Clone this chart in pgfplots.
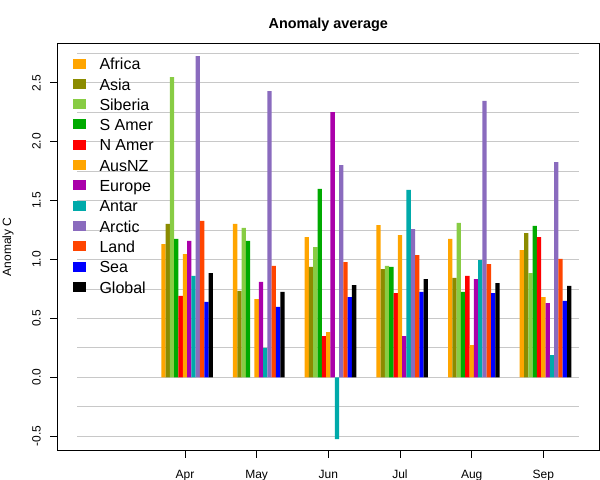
\documentclass[border=0pt]{standalone}
\usepackage{fontspec}
\setmainfont{Liberation Sans}
\usepackage{pgfplots}
\usepackage{pgfplotstable}
\pgfplotsset{compat=1.18}
\definecolor{africa}{HTML}{FFA500}
\definecolor{asia}{HTML}{8B8B00}
\definecolor{siberia}{HTML}{88CC44}
\definecolor{samer}{HTML}{00AA00}
\definecolor{namer}{HTML}{FF0000}
\definecolor{ausnz}{HTML}{FFA500}
\definecolor{europe}{HTML}{AA00AA}
\definecolor{antar}{HTML}{00AAAA}
\definecolor{arctic}{HTML}{8A6BBE}
\definecolor{land}{HTML}{FF4500}
\definecolor{sea}{HTML}{0000FF}
\definecolor{global}{HTML}{000000}
\definecolor{gridc}{HTML}{C8C8C8}
\pgfplotstableread{
m Africa Asia Siberia SAmer NAmer AusNZ Europe Antar Arctic Land Sea Global
4 1.131 1.301 2.548 1.174 0.690 1.046 1.157 0.860 2.726 1.327 0.639 0.885
5 1.301 0.733 1.267 1.157 nan 0.664 0.809 0.249 2.429 0.945 0.597 0.724
6 1.190 0.936 1.105 1.598 0.350 0.384 2.251 -0.524 1.801 0.978 0.681 0.783
7 1.292 0.919 0.945 0.936 0.715 1.207 0.350 1.590 1.258 1.037 0.724 0.834
8 1.174 0.843 1.310 0.724 0.860 0.274 0.834 0.995 2.345 0.961 0.715 0.800
9 1.080 1.224 0.885 1.284 1.190 0.681 0.630 0.189 1.826 1.004 0.648 0.775
}\data
\begin{document}
\begin{tikzpicture}
\path[use as bounding box] (-57.3bp,-29.3bp) rectangle (542.7bp,450.7bp);
\begin{axis}[
  at={(0,0)}, anchor=south west,
  scale only axis, width=542bp, height=407.7bp,
  xmin=2.22, xmax=9.78, ymin=-0.623, ymax=2.837,
  axis line style={line width=0.8bp, black},
  xtick={4,5,6,7,8,9}, xticklabels={Apr,May,Jun,Jul,Aug,Sep},
  ytick={-0.5,0,0.5,1,1.5,2,2.5}, yticklabels={-0.5,0.0,0.5,1.0,1.5,2.0,2.5},
  tick align=outside, major tick length=7bp,
  tick style={black, line width=0.8bp},
  xtick pos=bottom, ytick pos=left,
  ticklabel style={font=\fontsize{12bp}{14bp}\selectfont},
  y tick label style={xshift=-6bp, rotate=90, anchor=south},
  x tick label style={anchor=north, yshift=-9bp},
  title={\bfseries Anomaly average},
  title style={at={(axis description cs:0.5,1.036)}, anchor=base, yshift=-6pt, font=\fontsize{14.4bp}{16bp}\selectfont},
  ylabel={Anomaly C},
  every axis y label/.style={at={(axis description cs:-0.091,0.5)}, rotate=90, anchor=center, font=\fontsize{12bp}{14bp}\selectfont},
  legend style={at={(axis description cs:0.02768,0.9644)}, anchor=north west, draw=none, fill=none,
    font=\fontsize{16bp}{18bp}\selectfont, row sep=4.3bp, column sep=14bp, inner sep=0pt,
    nodes={inner sep=0pt, text height=12bp, text depth=4bp, anchor=base west}},
  legend cell align=left,
  legend image code/.code={\fill[#1] (0bp,1.2bp) rectangle (13bp,11.2bp);},
]
\pgfplotsinvokeforeach{-0.5,-0.25,0,0.25,0.5,0.75,1,1.25,1.5,1.75,2,2.25,2.5,2.75}{
  \draw[gridc, line width=0.8bp] (axis cs:2.5,#1) -- (axis cs:9.5,#1);
}
\addplot[ybar, bar width=0.06, bar shift=0pt, fill=africa, draw=none] table[x expr=\thisrow{m}-0.30, y=Africa] {\data};
\addlegendentry{Africa}
\addplot[ybar, bar width=0.06, bar shift=0pt, fill=asia, draw=none] table[x expr=\thisrow{m}-0.24, y=Asia] {\data};
\addlegendentry{Asia}
\addplot[ybar, bar width=0.06, bar shift=0pt, fill=siberia, draw=none] table[x expr=\thisrow{m}-0.18, y=Siberia] {\data};
\addlegendentry{Siberia}
\addplot[ybar, bar width=0.06, bar shift=0pt, fill=samer, draw=none] table[x expr=\thisrow{m}-0.12, y=SAmer] {\data};
\addlegendentry{S Amer}
\addplot[ybar, bar width=0.06, bar shift=0pt, fill=namer, draw=none] table[x expr=\thisrow{m}-0.06, y=NAmer] {\data};
\addlegendentry{N Amer}
\addplot[ybar, bar width=0.06, bar shift=0pt, fill=ausnz, draw=none] table[x expr=\thisrow{m}+0.00, y=AusNZ] {\data};
\addlegendentry{AusNZ}
\addplot[ybar, bar width=0.06, bar shift=0pt, fill=europe, draw=none] table[x expr=\thisrow{m}+0.06, y=Europe] {\data};
\addlegendentry{Europe}
\addplot[ybar, bar width=0.06, bar shift=0pt, fill=antar, draw=none] table[x expr=\thisrow{m}+0.12, y=Antar] {\data};
\addlegendentry{Antar}
\addplot[ybar, bar width=0.06, bar shift=0pt, fill=arctic, draw=none] table[x expr=\thisrow{m}+0.18, y=Arctic] {\data};
\addlegendentry{Arctic}
\addplot[ybar, bar width=0.06, bar shift=0pt, fill=land, draw=none] table[x expr=\thisrow{m}+0.24, y=Land] {\data};
\addlegendentry{Land}
\addplot[ybar, bar width=0.06, bar shift=0pt, fill=sea, draw=none] table[x expr=\thisrow{m}+0.30, y=Sea] {\data};
\addlegendentry{Sea}
\addplot[ybar, bar width=0.06, bar shift=0pt, fill=global, draw=none] table[x expr=\thisrow{m}+0.36, y=Global] {\data};
\addlegendentry{Global}
\end{axis}
\end{tikzpicture}
\end{document}
